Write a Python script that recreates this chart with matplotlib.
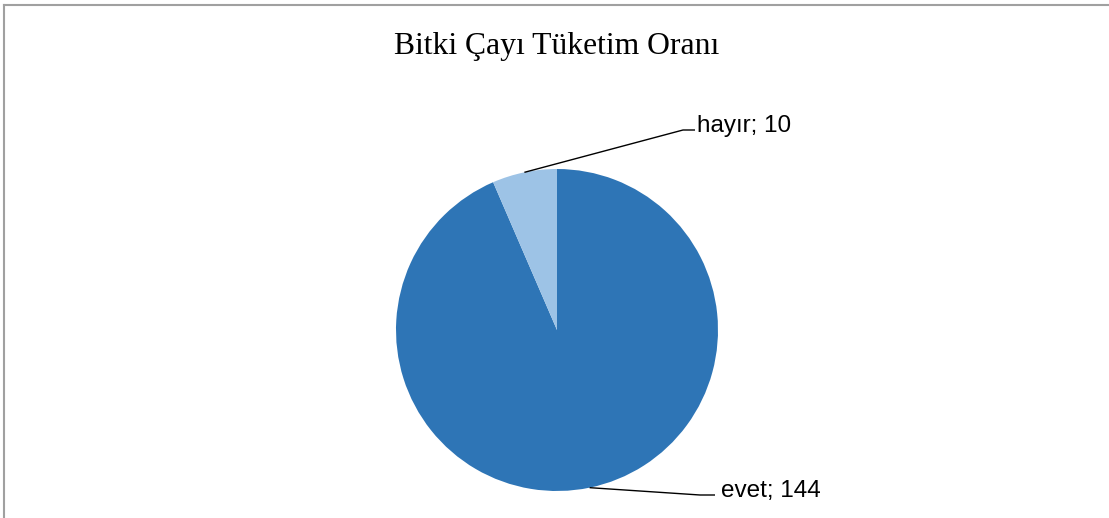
import matplotlib
matplotlib.use("Agg")
import matplotlib.pyplot as plt
import numpy as np

W, H = 1109, 518

categories = ["evet", "hayır"]
values = [144, 10]
colors = ["#2E75B6", "#9DC3E6"]
title = "Bitki Çayı Tüketim Oranı"

# label layout in image pixels (x, y from top): elbow, line end, text start, baseline
label_layout = {
    "hayır": dict(elbow=(683, 130), end=(695, 130), text=(697, 132)),
    "evet": dict(elbow=(700, 495), end=(715, 495), text=(721, 497)),
}


def py(y):
    return H - y


fig = plt.figure(figsize=(W / 100, H / 100), dpi=100)
ax = fig.add_axes([0, 0, 1, 1])
ax.set_xlim(0, W)
ax.set_ylim(0, H)
ax.set_aspect("equal")
ax.axis("off")

cx, cy, r = 557, py(330), 161
wedges, _ = ax.pie(values, colors=colors, startangle=90, counterclock=False,
                   center=(cx, cy), radius=r, frame=True,
                   wedgeprops=dict(linewidth=0))
ax.set_xlim(0, W)
ax.set_ylim(0, H)
ax.axis("off")

for w, cat, val in zip(wedges, categories, values):
    mid = np.deg2rad((w.theta1 + w.theta2) / 2)
    x0, y0 = cx + r * np.cos(mid), cy + r * np.sin(mid)
    lay = label_layout[cat]
    xs = [x0, lay["elbow"][0], lay["end"][0]]
    ys = [y0, py(lay["elbow"][1]), py(lay["end"][1])]
    ax.plot(xs, ys, color="black", lw=1.0, solid_capstyle="butt")
    ax.text(lay["text"][0], py(lay["text"][1]), f"{cat}; {val}",
            fontsize=17.5, family="Liberation Sans", va="baseline", ha="left")

ax.text(556.5, py(54), title, fontsize=22.8, family="Liberation Serif",
        ha="center", va="baseline")

# chart border (top and left visible)
ax.plot([3.5, W], [py(4.5), py(4.5)], color="#A0A0A0", lw=1.5)
ax.plot([3.5, 3.5], [py(4.5), 0], color="#A0A0A0", lw=1.5)

fig.savefig("out.png", dpi=100)
